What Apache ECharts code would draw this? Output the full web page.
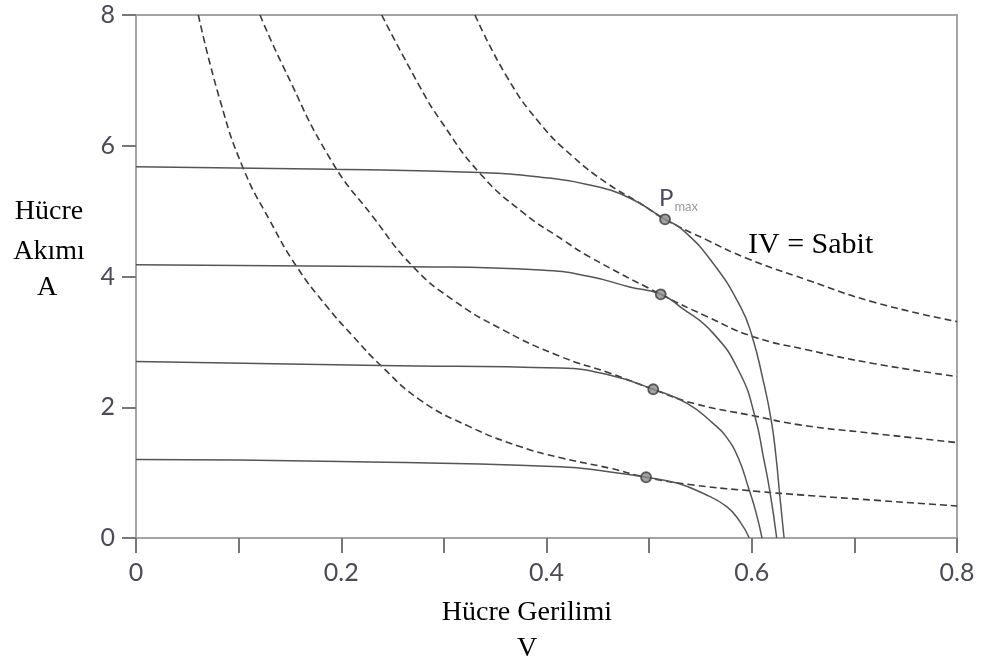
<!DOCTYPE html>
<html>
<head>
<meta charset="utf-8">
<script src="https://cdn.jsdelivr.net/npm/echarts@6/dist/echarts.min.js"></script>
<style>
  html, body { margin: 0; padding: 0; background: #fff; }
  #chart { width: 984px; height: 667px; }
</style>
</head>
<body>
<div id="chart"></div>
<script>
// tick labels
const xTickLabels = ['0', '0.2', '0.4', '0.6', '0.8']
const yTickLabels = ['0', '2', '4', '6', '8']

// I-V curves (solid), [V, A]
const ivCurve1 = [[0, 5.68], [0.192, 5.64], [0.335, 5.59], [0.394, 5.52], [0.442, 5.40], [0.481, 5.20], [0.5155, 4.875], [0.533, 4.71], [0.5625, 4.20], [0.589, 3.54], [0.600, 3.105], [0.611, 2.42], [0.619, 1.80], [0.6236, 1.25], [0.627, 0.70], [0.6315, 0]]
const ivCurve2 = [[0, 4.18], [0.270, 4.15], [0.394, 4.10], [0.442, 4.00], [0.481, 3.84], [0.5113, 3.728], [0.530, 3.54], [0.5625, 3.13], [0.5885, 2.52], [0.6032, 1.855], [0.6113, 1.24], [0.6178, 0.70], [0.6243, 0]]
const ivCurve3 = [[0, 2.70], [0.238, 2.64], [0.413, 2.60], [0.462, 2.49], [0.504, 2.275], [0.537, 2.06], [0.5625, 1.75], [0.575, 1.55], [0.587, 1.22], [0.5966, 0.78], [0.604, 0.40], [0.610, 0]]
const ivCurve4 = [[0, 1.20], [0.199, 1.17], [0.413, 1.09], [0.462, 1.01], [0.497, 0.929], [0.527, 0.84], [0.553, 0.68], [0.5756, 0.48], [0.5885, 0.25], [0.5976, 0]]

// IV = Sabit curves (dashed)
const powerCurve1 = [[0.3303, 8], [0.3612, 7.06], [0.3937, 6.34], [0.426, 5.83], [0.4587, 5.43], [0.491, 5.12], [0.5155, 4.875], [0.556, 4.56], [0.595, 4.28], [0.6535, 3.95], [0.7184, 3.61], [0.8, 3.31]]
const powerCurve2 = [[0.2394, 8], [0.2767, 6.90], [0.2962, 6.40], [0.335, 5.58], [0.377, 4.98], [0.416, 4.56], [0.442, 4.30], [0.5113, 3.728], [0.556, 3.39], [0.6015, 3.08], [0.6535, 2.88], [0.7184, 2.67], [0.8, 2.47]]
const powerCurve3 = [[0.1208, 8], [0.1435, 7.21], [0.190, 5.78], [0.231, 4.91], [0.270, 4.15], [0.309, 3.64], [0.358, 3.18], [0.413, 2.78], [0.462, 2.52], [0.504, 2.275], [0.543, 2.06], [0.6015, 1.87], [0.647, 1.73], [0.7184, 1.60], [0.8, 1.46]]
const powerCurve4 = [[0.0607, 8], [0.0818, 6.70], [0.1045, 5.655], [0.1306, 4.85], [0.1566, 4.15], [0.186, 3.54], [0.2118, 3.08], [0.2378, 2.65], [0.277, 2.11], [0.3255, 1.70], [0.374, 1.40], [0.413, 1.23], [0.462, 1.066], [0.497, 0.929], [0.543, 0.81], [0.608, 0.71], [0.647, 0.66], [0.718, 0.58], [0.8, 0.49]]

// maximum power points
const pmaxPoints = [[0.5155, 4.875], [0.5113, 3.728], [0.504, 2.275], [0.497, 0.929]]

const axisGrey = '#a4a4a4'
const serif = '"Liberation Serif", "Times New Roman", serif'

const solid = (data) => ({
  type: 'line',
  data: data,
  smooth: 0.5,
  showSymbol: false,
  silent: true,
  lineStyle: { color: '#555', width: 1.5 },
  z: 3,
})

const dashed = (data) => ({
  type: 'line',
  data: data,
  smooth: 0.5,
  showSymbol: false,
  silent: true,
  lineStyle: { color: '#3a3a3a', width: 1.6, type: [7, 4] },
  z: 2,
})

const chart = echarts.init(document.getElementById('chart'))

chart.setOption({
  animation: false,
  grid: {
    left: 136,
    right: 27,
    top: 15,
    bottom: 129,
    show: true,
    borderColor: axisGrey,
    borderWidth: 2,
  },
  xAxis: {
    type: 'value',
    min: 0,
    max: 0.8,
    interval: 0.2,
    axisLine: { show: true, lineStyle: { color: axisGrey, width: 2 } },
    axisTick: { show: true, length: 15, lineStyle: { color: '#777', width: 2 } },
    minorTick: { show: true, splitNumber: 2, length: 15, lineStyle: { color: '#777', width: 2 } },
    splitLine: { show: false },
    axisLabel: {
      margin: 22,
      color: '#4a4a58',
      fontSize: 25,
      fontFamily: 'Lato',
      formatter: (v) => xTickLabels[Math.round(v / 0.2)],
    },
  },
  yAxis: {
    type: 'value',
    min: 0,
    max: 8,
    interval: 2,
    axisLine: { show: true, lineStyle: { color: axisGrey, width: 2 } },
    axisTick: { show: true, length: 14, lineStyle: { color: '#777', width: 2 } },
    splitLine: { show: false },
    axisLabel: {
      margin: 21,
      color: '#4a4a58',
      fontSize: 25,
      fontFamily: 'Lato',
      formatter: (v) => yTickLabels[Math.round(v / 2)],
    },
  },
  series: [
    dashed(powerCurve1),
    dashed(powerCurve2),
    dashed(powerCurve3),
    dashed(powerCurve4),
    solid(ivCurve1),
    solid(ivCurve2),
    solid(ivCurve3),
    solid(ivCurve4),
    {
      type: 'scatter',
      data: pmaxPoints,
      symbol: 'circle',
      symbolSize: 10,
      silent: true,
      itemStyle: { color: '#8c8c8c', borderColor: '#3c3c3c', borderWidth: 1.8 },
      z: 5,
    },
  ],
  graphic: [
    {
      type: 'text', x: 527, y: 613,
      style: { text: 'Hücre Gerilimi', font: '28px ' + serif, fill: '#000', align: 'center', verticalAlign: 'middle' },
    },
    {
      type: 'text', x: 527, y: 649,
      style: { text: 'V', font: '28px ' + serif, fill: '#000', align: 'center', verticalAlign: 'middle' },
    },
    {
      type: 'text', x: 49, y: 212,
      style: { text: 'Hücre', font: '28px ' + serif, fill: '#000', align: 'center', verticalAlign: 'middle' },
    },
    {
      type: 'text', x: 49, y: 252,
      style: { text: 'Akımı', font: '28px ' + serif, fill: '#000', align: 'center', verticalAlign: 'middle' },
    },
    {
      type: 'text', x: 47, y: 288,
      style: { text: 'A', font: '28px ' + serif, fill: '#000', align: 'center', verticalAlign: 'middle' },
    },
    {
      type: 'text', x: 748, y: 245,
      style: { text: 'IV = Sabit', font: '30px ' + serif, fill: '#000', align: 'left', verticalAlign: 'middle' },
    },
    {
      type: 'text', x: 659, y: 198,
      style: {
        text: '{p|P}{s|max}',
        align: 'left',
        verticalAlign: 'middle',
        rich: {
          p: { fontFamily: 'Lato', fontSize: 24, fill: '#4a4a60', verticalAlign: 'bottom' },
          s: { fontFamily: 'Lato', fontSize: 13, fill: '#999', verticalAlign: 'bottom', padding: [0, 0, -3, 1] },
        },
      },
    },
  ],
})
</script>
</body>
</html>
